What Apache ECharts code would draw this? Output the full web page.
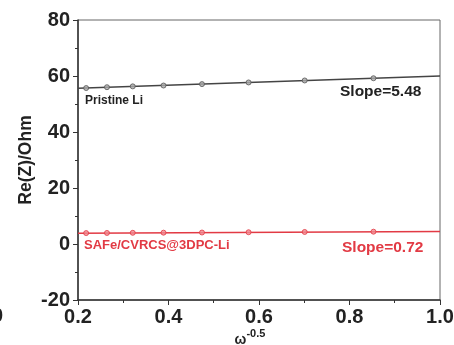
<!DOCTYPE html>
<html>
<head>
<meta charset="utf-8">
<script src="https://cdn.jsdelivr.net/npm/echarts@6/dist/echarts.min.js"></script>
<style>
  html, body { margin: 0; padding: 0; background: #fff; }
  #main { width: 454px; height: 345px; }
</style>
</head>
<body>
<div id="main"></div>
<script>
// omega^-0.5 values of the measured points
var xValues = [0.218, 0.264, 0.321, 0.389, 0.474, 0.577, 0.701, 0.853];
var pristine = [55.7, 56.0, 56.3, 56.6, 57.1, 57.7, 58.4, 59.2];
var safe = [3.9, 3.95, 4.0, 4.05, 4.1, 4.2, 4.3, 4.4];
// linear fits drawn across the whole axis
var pristineFit = [[0.2, 55.6], [1.0, 60.0]];
var safeFit = [[0.2, 3.85], [1.0, 4.45]];

function pairs(xs, ys) {
    return xs.map(function (x, i) { return [x, ys[i]]; });
}

var chart = echarts.init(document.getElementById('main'));
var font = 'Liberation Sans, Arial, sans-serif';
var option = {
    animation: false,
    grid: {
        left: 78, right: 14, top: 20, bottom: 45,
        outerBoundsMode: 'none',
        containLabel: false,
        show: true, borderColor: '#666', borderWidth: 1
    },
    xAxis: {
        type: 'value',
        min: 0.2, max: 1.0, interval: 0.2,
        name: '{a|ω}{b|-0.5}',
        nameLocation: 'middle',
        nameGap: 28,
        nameMoveOverlap: false,
        nameTextStyle: {
            padding: [0, 18, 0, 0],
            rich: {
                a: { fontSize: 14, fontWeight: 'bold', fontFamily: font, color: '#222', verticalAlign: 'bottom' },
                b: { fontSize: 11, fontWeight: 'bold', fontFamily: font, color: '#222', padding: [0, 0, 8, 0] }
            }
        },
        axisLine: { onZero: false, lineStyle: { color: '#333', width: 1.5 } },
        axisTick: { length: 5, lineStyle: { color: '#333' } },
        minorTick: { show: true, splitNumber: 2, length: 3, lineStyle: { color: '#333' } },
        splitLine: { show: false },
        axisLabel: {
            fontSize: 20, fontWeight: 'bold', fontFamily: font, color: '#222', margin: 7,
            formatter: function (v) { return v.toFixed(1); }
        }
    },
    yAxis: {
        type: 'value',
        min: -20, max: 80, interval: 20,
        name: 'Re(Z)/Ohm',
        nameLocation: 'middle',
        nameGap: 43,
        nameMoveOverlap: false,
        nameTextStyle: { fontSize: 17.5, fontWeight: 'bold', fontFamily: font, color: '#222' },
        axisLine: { show: true, onZero: false, lineStyle: { color: '#333', width: 1.5 } },
        axisTick: { show: true, length: 5, lineStyle: { color: '#333' } },
        minorTick: { show: true, splitNumber: 2, length: 3, lineStyle: { color: '#333' } },
        splitLine: { show: false },
        axisLabel: { fontSize: 20, fontWeight: 'bold', fontFamily: font, color: '#222', margin: 8 }
    },
    series: [
        {
            type: 'line', data: pristineFit, symbol: 'none',
            lineStyle: { color: '#444', width: 1.5 }, z: 2
        },
        {
            type: 'scatter', data: pairs(xValues, pristine), symbol: 'circle', symbolSize: 5,
            itemStyle: { color: '#aaa', borderColor: '#555', borderWidth: 1 }, z: 3
        },
        {
            type: 'line', data: safeFit, symbol: 'none',
            lineStyle: { color: '#e23a44', width: 1.5 }, z: 2
        },
        {
            type: 'scatter', data: pairs(xValues, safe), symbol: 'circle', symbolSize: 5,
            itemStyle: { color: '#f08890', borderColor: '#e23a44', borderWidth: 1 }, z: 3
        }
    ],
    graphic: [
        { type: 'text', left: 85, top: 95, style: { text: 'Pristine Li', fontSize: 12, fontWeight: 'bold', fontFamily: font, fill: '#222' } },
        { type: 'text', left: 340, top: 84, style: { text: 'Slope=5.48', fontSize: 15.5, fontWeight: 'bold', fontFamily: font, fill: '#222' } },
        { type: 'text', left: 84, top: 239, style: { text: 'SAFe/CVRCS@3DPC-Li', fontSize: 13, fontWeight: 'bold', fontFamily: font, fill: '#e23a44' } },
        { type: 'text', left: 342, top: 240, style: { text: 'Slope=0.72', fontSize: 15.5, fontWeight: 'bold', fontFamily: font, fill: '#e23a44' } },
        { type: 'text', left: -8, top: 306, style: { text: '0', fontSize: 20, fontWeight: 'bold', fontFamily: font, fill: '#222' } }
    ]
};
chart.setOption(option);
</script>
</body>
</html>
